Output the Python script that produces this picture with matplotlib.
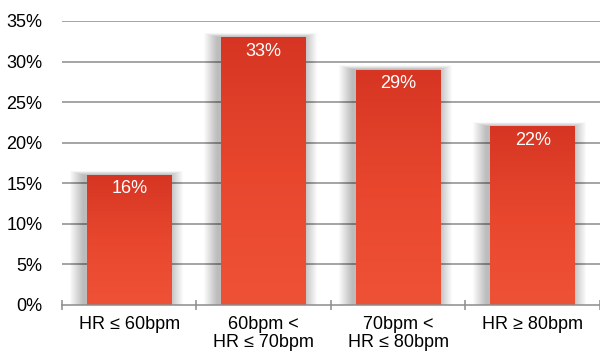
import numpy as np
import matplotlib.pyplot as plt
from matplotlib.patches import Rectangle
from matplotlib.colors import LinearSegmentedColormap

plt.rcParams['font.family'] = ['Liberation Sans', 'DejaVu Sans']

categories = ["HR ≤ 60bpm", "60bpm <\nHR ≤ 70bpm", "70bpm <\nHR ≤ 80bpm", "HR ≥ 80bpm"]
values = [16, 33, 29, 22]
labels = ["16%", "33%", "29%", "22%"]

fig = plt.figure(figsize=(6, 3.57), dpi=100)
ax = fig.add_axes([0.1033, 0.1457, 0.8967, 0.7955])

x = np.arange(len(categories))
width = 0.63

ax.set_xlim(-0.5, len(categories) - 0.5)
ax.set_ylim(0, 35)

for yv in range(5, 40, 5):
    ax.axhline(yv, color="#8c8c8c", lw=1.1, zorder=0)

cmap = LinearSegmentedColormap.from_list("bar", ["#ee5236", "#e8472e", "#d63523"])
grad = np.linspace(0, 1, 256).reshape(-1, 1)

px = 1 / 134.5   # one pixel in x data units
py = 35 / 284    # one pixel in y data units

for xi, v, lab in zip(x, values, labels):
    left = xi - width / 2
    # soft shadow, a bit to the left and down
    for k in range(14):
        d = k + 1
        ax.add_patch(Rectangle((left - 3 * px - d * px, -d * 0.5 * py),
                               width + 2 * d * px, v + d * 0.8 * py,
                               facecolor="black", alpha=0.018, lw=0, zorder=1))
    im = ax.imshow(grad, cmap=cmap, aspect="auto", origin="lower",
                   extent=(left, left + width, 0, v), zorder=2)
    r = Rectangle((left, 0), width, v, facecolor="none", lw=0)
    ax.add_patch(r)
    im.set_clip_path(r)
    ax.text(xi, v - 1.7, lab, ha="center", va="center", color="white", fontsize=13, zorder=3)

ax.set_xticks(x)
ax.set_xticklabels(categories, fontsize=13, linespacing=1.1)
ax.tick_params(axis="x", length=0, pad=8)
ax.set_xticks(np.arange(-0.5, len(categories)), minor=True)
ax.tick_params(axis="x", which="minor", length=7, direction="inout", color="#8c8c8c", width=1.1)

ax.set_yticks(range(0, 40, 5))
ax.set_yticklabels([f"{t}%" for t in range(0, 40, 5)], fontsize=13)
ax.tick_params(axis="y", length=0, pad=14)

for s in ["top", "right", "left"]:
    ax.spines[s].set_visible(False)
ax.spines["bottom"].set_color("#8c8c8c")
ax.spines["bottom"].set_linewidth(1.1)

fig.savefig("out.png", dpi=100)
